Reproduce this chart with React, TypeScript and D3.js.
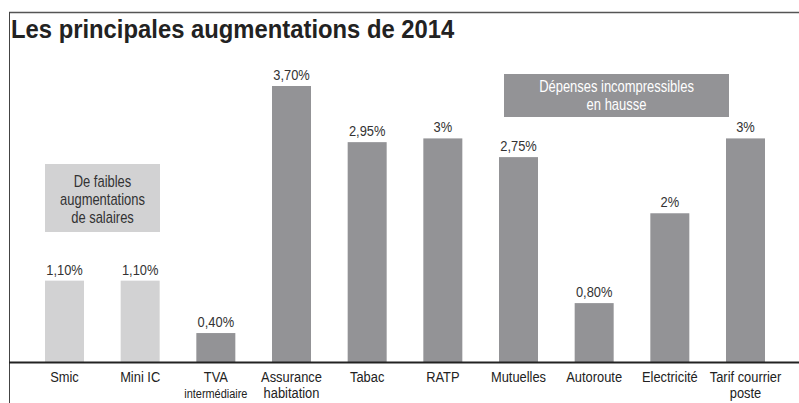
import React from "react";
import * as d3 from "d3";

const categories = ["Smic", "Mini IC", "TVA", "Assurance", "Tabac", "RATP", "Mutuelles", "Autoroute", "Electricité", "Tarif courrier"];
const subLabels = ["", "", "intermédiaire", "habitation", "", "", "", "", "", "poste"];
const values = [1.1, 1.1, 0.4, 3.7, 2.95, 3, 2.75, 0.8, 2, 3];
const valueLabels = ["1,10%", "1,10%", "0,40%", "3,70%", "2,95%", "3%", "2,75%", "0,80%", "2%", "3%"];
const groups = ["salaires", "salaires", "dep", "dep", "dep", "dep", "dep", "dep", "dep", "dep"];
const title = "Les principales augmentations de 2014";
const noteSalaires = ["De faibles", "augmentations", "de salaires"];
const noteDepenses = ["Dépenses incompressibles", "en hausse"];

const W = 799;
const H = 403;
const FONT = "'Liberation Sans', Arial, sans-serif";
const LIGHT = "#d2d2d3";
const DARK = "#939396";

type NTProps = {
  x: number;
  y: number;
  sx: number;
  size: number;
  anchor?: string;
  fill?: string;
  weight?: string;
  children: React.ReactNode;
};

function NText({ x, y, sx, size, anchor = "middle", fill = "#222", weight = "normal", children }: NTProps) {
  return (
    <text transform={`translate(${x},${y}) scale(${sx},1)`} textAnchor={anchor} fontSize={size} fill={fill} fontWeight={weight}>
      {children}
    </text>
  );
}

export default function App() {
  const baseline = 363;
  const x = d3.scalePoint<string>().domain(categories).range([64.5, 745.5]);
  const y = d3.scaleLinear().domain([0, 3.7]).range([baseline, 86]);
  const bw = 39;
  const N = 0.81;
  return (
    <svg width={W} height={H} style={{ position: "absolute", left: 0, top: 0, background: "#fff" }} fontFamily={FONT}>
      <line x1={9} x2={W} y1={12.5} y2={12.5} stroke="#555" strokeWidth={1.5} />
      <line x1={9.5} x2={9.5} y1={12} y2={H} stroke="#444" strokeWidth={1} />
      <NText x={11} y={38} sx={0.953} size={25} anchor="start" weight="bold" fill="#222">{title}</NText>

      {categories.map((c, i) => {
        const cx = x(c) as number;
        return (
          <g key={c}>
            <rect x={cx - bw / 2} y={y(values[i])} width={bw} height={baseline - y(values[i])}
              fill={groups[i] === "salaires" ? LIGHT : DARK} />
            <NText x={cx} y={y(values[i]) - 6} sx={0.92} size={14} fill="#333">{valueLabels[i]}</NText>
            <NText x={cx} y={381.5} sx={0.92} size={14} fill="#222">{c}</NText>
            {subLabels[i] && (
              <NText x={cx} y={397.5} sx={subLabels[i] === "intermédiaire" ? N : 0.92}
                size={subLabels[i] === "intermédiaire" ? 13.5 : 14} fill="#222">{subLabels[i]}</NText>
            )}
          </g>
        );
      })}

      <line x1={9} x2={W} y1={362.5} y2={362.5} stroke="#222" strokeWidth={2} />

      <rect x={45} y={164} width={115} height={68} fill={LIGHT} />
      {noteSalaires.map((t, i) => (
        <NText key={t} x={102.5} y={187 + i * 18} sx={N} size={16} fill="#333">{t}</NText>
      ))}

      <rect x={504} y={74} width={225} height={43} fill={DARK} />
      {noteDepenses.map((t, i) => (
        <NText key={t} x={616.5} y={92 + i * 18} sx={N} size={16} fill="#fff">{t}</NText>
      ))}
    </svg>
  );
}
